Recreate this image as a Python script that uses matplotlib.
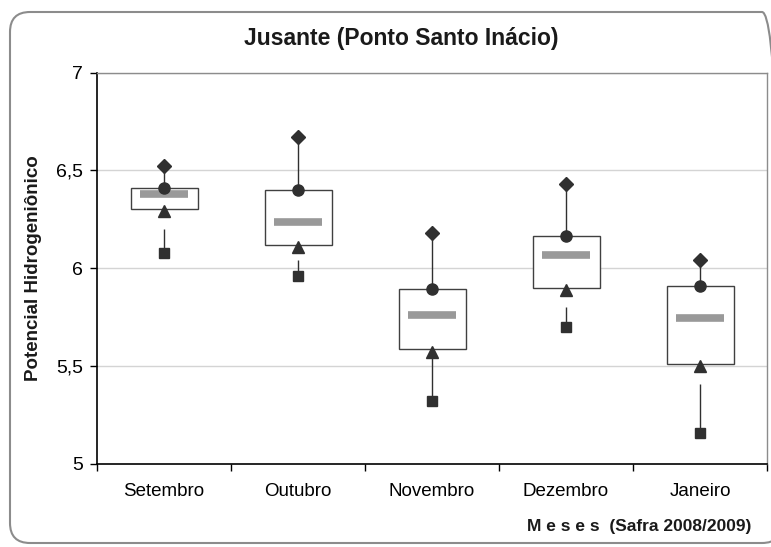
import matplotlib
matplotlib.use("Agg")
import matplotlib.pyplot as plt
from matplotlib.patches import FancyBboxPatch

plt.rcParams['font.family'] = ['Liberation Sans', 'DejaVu Sans']

months = ["Setembro", "Outubro", "Novembro", "Dezembro", "Janeiro"]
max_vals = [6.52, 6.67, 6.18, 6.43, 6.04]
q3_vals = [6.41, 6.40, 5.895, 6.165, 5.91]
median_vals = [6.38, 6.235, 5.76, 6.07, 5.745]
q1_vals = [6.305, 6.12, 5.59, 5.90, 5.51]
tri_vals = [6.29, 6.11, 5.57, 5.89, 5.50]
whisk_top_vals = [6.20, 6.04, 5.57, 5.80, 5.41]
min_vals = [6.08, 5.96, 5.32, 5.70, 5.16]
yticks = [5, 5.5, 6, 6.5, 7]
ytick_labels = ["5", "5,5", "6", "6,5", "7"]

dark = "#303030"
fig = plt.figure(figsize=(7.71, 5.47), dpi=100)
fig.patch.set_facecolor("white")

frame = FancyBboxPatch((0.10, 0.04), 7.72, 5.31,
                       boxstyle="round,pad=0,rounding_size=0.2",
                       transform=fig.dpi_scale_trans, facecolor="none",
                       edgecolor="#8c8c8c", linewidth=1.5, zorder=-1)
fig.patches.append(frame)

ax = fig.add_axes([97/771, (547-464)/547, 670/771, (464-72.5)/547])
ax.set_facecolor("none")
x = list(range(len(months)))

for v in [5.5, 6, 6.5, 7]:
    ax.axhline(v, color="#d4d4d4", lw=1, zorder=0)

# whiskers
ax.vlines(x, q3_vals, max_vals, color=dark, lw=1, zorder=2)
ax.vlines(x, min_vals, whisk_top_vals, color=dark, lw=1, zorder=2)
# boxes
ax.bar(x, [a - b for a, b in zip(q3_vals, q1_vals)], bottom=q1_vals, width=0.5,
       color="white", edgecolor="#404040", linewidth=1, zorder=3)
# median
ax.hlines(median_vals, [i - 0.18 for i in x], [i + 0.18 for i in x],
          color="#999999", lw=5.5, zorder=4, capstyle="butt")
# markers
ax.plot(x, max_vals, ls="none", marker="D", ms=7.5, color=dark, zorder=5)
ax.plot(x, q3_vals, ls="none", marker="o", ms=8, color=dark, zorder=5)
ax.plot(x, tri_vals, ls="none", marker="^", ms=8, color=dark, zorder=5)
ax.plot(x, min_vals, ls="none", marker="s", ms=7.5, color=dark, zorder=5)

ax.set_xlim(-0.5, 4.5)
ax.set_ylim(5, 7)
ax.set_yticks(yticks)
ax.set_yticklabels(ytick_labels, fontsize=14)
ax.set_xticks(x)
ax.set_xticklabels(months, fontsize=13.5)
ax.tick_params(axis="x", length=0, pad=14)
ax.set_xticks([i - 0.5 for i in range(6)], minor=True)
ax.tick_params(axis="x", which="minor", length=5, width=1, color="black", direction="out")
ax.tick_params(axis="y", length=5, width=1, direction="out", pad=5)

for s in ["top", "right"]:
    ax.spines[s].set_color("#8c8c8c")
    ax.spines[s].set_linewidth(1)
for s in ["left", "bottom"]:
    ax.spines[s].set_color("black")
    ax.spines[s].set_linewidth(1.2)

fig.text(401/771, 1 - 39/547, "Jusante (Ponto Santo Inácio)", ha="center", va="center",
         fontsize=16.5, fontweight="bold", color="#1a1a1a")
fig.text(34/771, 1 - 268/547, "Potencial Hidrogeniônico", ha="center", va="center",
         rotation=90, fontsize=13.5, fontweight="bold", color="#1a1a1a")
fig.text(639/771, 1 - 526/547, "M e s e s  (Safra 2008/2009)", ha="center", va="center",
         fontsize=12.5, fontweight="bold", color="#1a1a1a")

fig.savefig("out.png", dpi=100)
